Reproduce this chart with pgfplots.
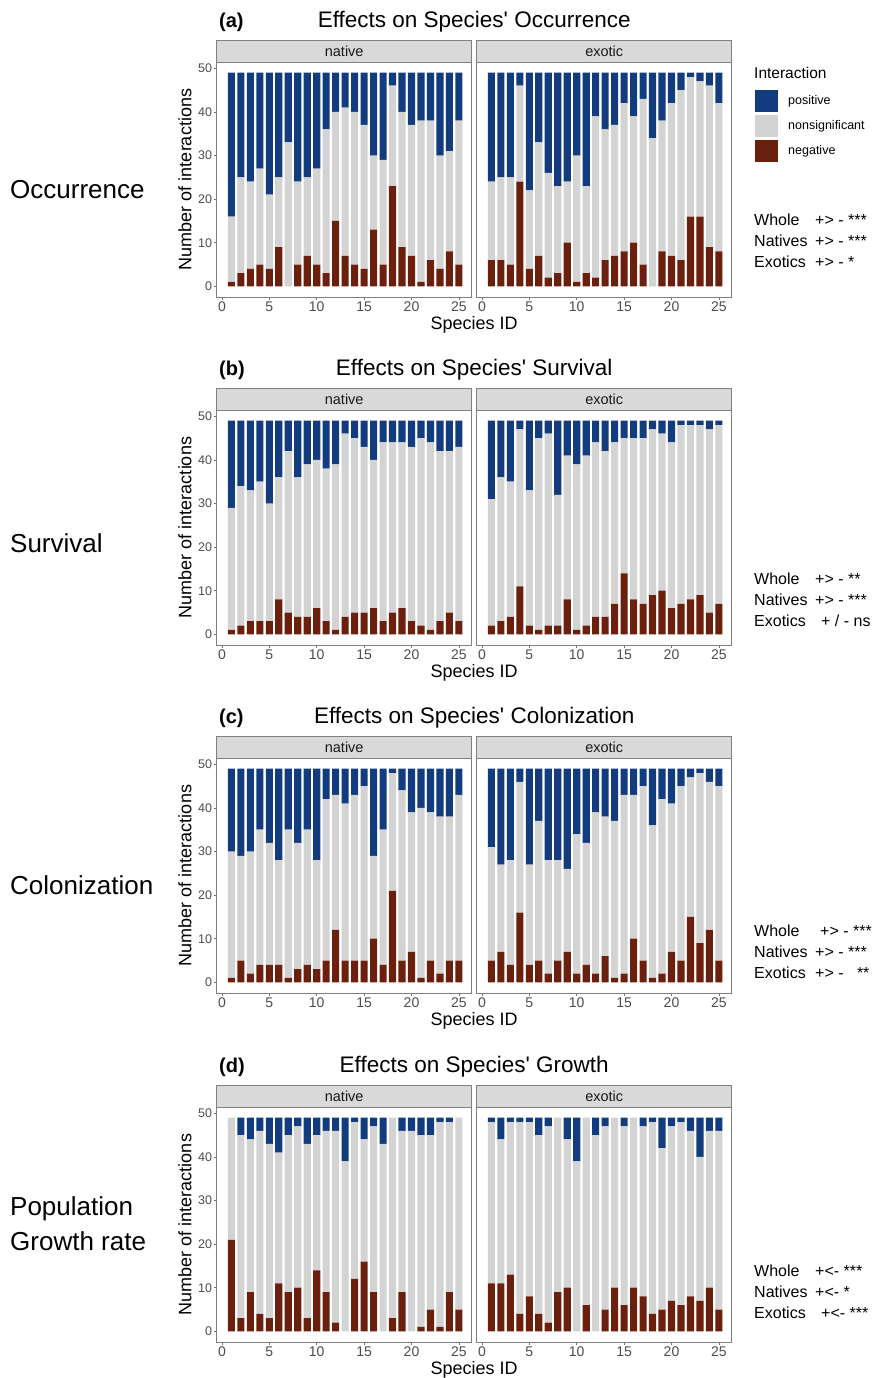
\documentclass[border=0pt]{standalone}
\usepackage{fontspec}
\setmainfont{Liberation Sans}
\usepackage{pgfplots}
\usepackage{pgfplotstable}
\pgfplotsset{compat=1.18}
\definecolor{cpos}{RGB}{18,60,126}
\definecolor{cnon}{RGB}{211,211,211}
\definecolor{cneg}{RGB}{107,31,13}
\definecolor{cstrip}{RGB}{217,217,217}
\definecolor{ctick}{RGB}{77,77,77}
\definecolor{cframe}{RGB}{127,127,127}

\pgfplotstableread{
x neg non pos
1 1 15 33
2 3 22 24
3 4 20 25
4 5 22 22
5 4 17 28
6 9 16 24
7 0 33 16
8 5 19 25
9 7 18 24
10 5 22 22
11 3 33 13
12 15 25 9
13 7 34 8
14 5 35 9
15 4 33 12
16 13 17 19
17 5 24 20
18 23 23 3
19 9 31 9
20 7 30 12
21 1 37 11
22 6 32 11
23 4 26 19
24 8 23 18
25 5 33 11
}\aN
\pgfplotstableread{
x neg non pos
1 6 18 25
2 6 19 24
3 5 20 24
4 24 22 3
5 4 18 27
6 7 26 16
7 2 24 23
8 3 20 26
9 10 14 25
10 1 29 19
11 3 20 26
12 2 37 10
13 6 30 13
14 7 30 12
15 8 34 7
16 10 29 10
17 5 38 6
18 0 34 15
19 8 30 11
20 7 35 7
21 6 39 4
22 16 32 1
23 16 31 2
24 9 37 3
25 8 34 7
}\aE
\pgfplotstableread{
x neg non pos
1 1 28 20
2 2 32 15
3 3 30 16
4 3 32 14
5 3 27 19
6 8 28 13
7 5 37 7
8 4 32 13
9 4 35 10
10 6 34 9
11 3 35 11
12 1 38 10
13 4 42 3
14 5 40 4
15 5 38 6
16 6 34 9
17 3 41 5
18 5 39 5
19 6 38 5
20 3 40 6
21 2 43 4
22 1 43 5
23 3 39 7
24 5 37 7
25 3 40 6
}\bN
\pgfplotstableread{
x neg non pos
1 2 29 18
2 3 33 13
3 4 31 14
4 11 36 2
5 2 31 16
6 1 44 4
7 2 44 3
8 2 30 17
9 8 33 8
10 1 38 10
11 2 39 8
12 4 40 5
13 4 38 7
14 7 37 5
15 14 31 4
16 8 37 4
17 7 38 4
18 9 38 2
19 10 36 3
20 6 38 5
21 7 41 1
22 8 40 1
23 9 39 1
24 5 42 2
25 7 41 1
}\bE
\pgfplotstableread{
x neg non pos
1 1 29 19
2 5 24 20
3 2 28 19
4 4 31 14
5 4 28 17
6 4 24 21
7 1 34 14
8 3 29 17
9 4 31 14
10 3 25 21
11 5 37 7
12 12 31 6
13 5 36 8
14 5 38 6
15 5 40 4
16 10 19 20
17 4 31 14
18 21 27 1
19 5 39 5
20 7 32 10
21 1 39 9
22 5 34 10
23 2 36 11
24 5 33 11
25 5 38 6
}\cN
\pgfplotstableread{
x neg non pos
1 5 26 18
2 7 20 22
3 4 24 21
4 16 30 3
5 4 23 22
6 5 32 12
7 2 26 21
8 5 23 21
9 7 19 23
10 2 32 15
11 4 28 17
12 2 37 10
13 6 32 11
14 1 36 12
15 2 41 6
16 10 33 6
17 5 40 4
18 1 35 13
19 2 40 7
20 7 34 8
21 5 40 4
22 15 32 2
23 9 39 1
24 12 34 3
25 5 40 4
}\cE
\pgfplotstableread{
x neg non pos
1 21 28 0
2 3 42 4
3 9 35 5
4 4 42 3
5 3 40 6
6 11 30 8
7 9 36 4
8 10 37 2
9 3 40 6
10 14 31 4
11 9 37 3
12 2 44 3
13 0 39 10
14 12 36 1
15 16 28 5
16 9 38 2
17 0 43 6
18 3 46 0
19 9 37 3
20 0 46 3
21 1 44 4
22 5 40 4
23 1 47 1
24 9 39 1
25 5 44 0
}\dN
\pgfplotstableread{
x neg non pos
1 11 37 1
2 11 33 5
3 13 35 1
4 4 44 1
5 8 40 1
6 4 41 4
7 2 45 2
8 9 40 0
9 10 34 5
10 0 39 10
11 6 43 0
12 0 45 4
13 5 42 2
14 10 39 0
15 6 41 2
16 10 39 0
17 8 39 2
18 4 44 1
19 5 37 7
20 7 40 2
21 6 42 1
22 8 38 3
23 7 33 9
24 10 36 3
25 5 41 3
}\dE

\pgfplotsset{
  panel/.style={
    width=255pt, height=235pt, scale only axis,
    anchor=south west,
    ybar stacked, bar width=0.75,
    xmin=-0.55, xmax=26.35, ymin=-2.45, ymax=51.45,
    xtick={0,5,...,25}, ytick={0,10,...,50},
    tick pos=left, tick align=outside, major tick length=3pt,
    minor tick num=0,
    tick style={color=black!55, line width=0.6pt},
    axis line style={color=cframe, line width=0.8pt},
    xticklabel style={font=\fontsize{14}{16}\selectfont, text=ctick, inner sep=1.5pt},
    yticklabel style={font=\fontsize{12.5}{14}\selectfont, text=ctick, inner sep=1.5pt},
    /pgf/number format/assume math mode=true,
    every axis y label/.style={at={(axis description cs:-0.125,0.5)}, rotate=90, anchor=center, font=\fontsize{18}{20}\selectfont},
  },
}

\newcommand{\Row}[5]{%
  \begin{axis}[panel, at={(216.7pt,#1pt)}, ylabel={Number of interactions}]
    \addplot[fill=cneg, draw=none] table[x=x,y=neg]{#2};
    \addplot[fill=cnon, draw=none] table[x=x,y=non]{#2};
    \addplot[fill=cpos, draw=none] table[x=x,y=pos]{#2};
  \end{axis}
  \begin{axis}[panel, at={(476.7pt,#1pt)}, ytick=\empty]
    \addplot[fill=cneg, draw=none] table[x=x,y=neg]{#3};
    \addplot[fill=cnon, draw=none] table[x=x,y=non]{#3};
    \addplot[fill=cpos, draw=none] table[x=x,y=pos]{#3};
  \end{axis}
  \draw[fill=cstrip, draw=black!50, line width=0.8pt] (216.7,{#1+235}) rectangle (471.7,{#1+257});
  \draw[fill=cstrip, draw=black!50, line width=0.8pt] (476.7,{#1+235}) rectangle (731.7,{#1+257});
  \node[font=\fontsize{14.5}{16}\selectfont, text=black!90] at (344.2,{#1+246}) {native};
  \node[font=\fontsize{14.5}{16}\selectfont, text=black!90] at (604.2,{#1+246}) {exotic};
  \node[anchor=west, font=\bfseries\fontsize{20}{22}\selectfont, inner sep=0pt] at (219,{#1+275}) {(#4)};
  \node[font=\fontsize{22.5}{25}\selectfont, inner sep=0pt] at (474.2,{#1+275}) {#5};
  \node[font=\fontsize{18}{20}\selectfont, inner sep=0pt] at (474.2,{#1-28}) {Species ID};
}

\begin{document}
\begin{tikzpicture}[x=1pt,y=1pt]
  \path[use as bounding box, fill=white] (0,0) rectangle (875,1378);

  \Row{1081}{\aN}{\aE}{a}{Effects on Species\textquotesingle\ Occurrence}
  \Row{733}{\bN}{\bE}{b}{Effects on Species\textquotesingle\ Survival}
  \Row{385}{\cN}{\cE}{c}{Effects on Species\textquotesingle\ Colonization}
  \Row{36}{\dN}{\dE}{d}{Effects on Species\textquotesingle\ Growth}

  % left row labels
  \begin{scope}[every node/.style={anchor=west, font=\fontsize{26}{30}\selectfont, inner sep=0pt}]
    \node at (10,1188) {Occurrence};
    \node at (10,835) {Survival};
    \node at (10,493) {Colonization};
    \node at (10,169) {Population};
    \node at (10,137) {Growth rate};
  \end{scope}

  % legend
  \node[anchor=west, font=\fontsize{15.5}{18}\selectfont, inner sep=0pt] at (754,1305) {Interaction};
  \fill[cpos] (755,1266) rectangle (778,1288);
  \fill[cnon] (755,1241) rectangle (778,1263);
  \fill[cneg] (755,1216) rectangle (778,1238);
  \begin{scope}[every node/.style={anchor=west, font=\fontsize{12.5}{14}\selectfont, inner sep=0pt}]
    \node at (788,1277) {positive};
    \node at (788,1252) {nonsignificant};
    \node at (788,1227) {negative};
  \end{scope}

  % significance texts
  \begin{scope}[every node/.style={anchor=west, font=\fontsize{16}{18}\selectfont, inner sep=0pt}]
    \node at (754,1158) {Whole};   \node at (815,1158) {+> - ***};
    \node at (754,1137) {Natives}; \node at (815,1137) {+> - ***};
    \node at (754,1116) {Exotics}; \node at (815,1116) {+> - *};

    \node at (754,799) {Whole};   \node at (815,799) {+> - **};
    \node at (754,778) {Natives}; \node at (815,778) {+> - ***};
    \node at (754,757) {Exotics}; \node at (821,757) {+ / - ns};

    \node at (754,447) {Whole};   \node at (820,447) {+> - ***};
    \node at (754,426) {Natives}; \node at (815,426) {+> - ***};
    \node at (754,405) {Exotics}; \node at (815,405) {+> - \ \ **};

    \node at (754,107) {Whole};   \node at (815,107) {+<- ***};
    \node at (754,86)  {Natives}; \node at (815,86)  {+<- *};
    \node at (754,65)  {Exotics}; \node at (821,65)  {+<- ***};
  \end{scope}
\end{tikzpicture}
\end{document}
